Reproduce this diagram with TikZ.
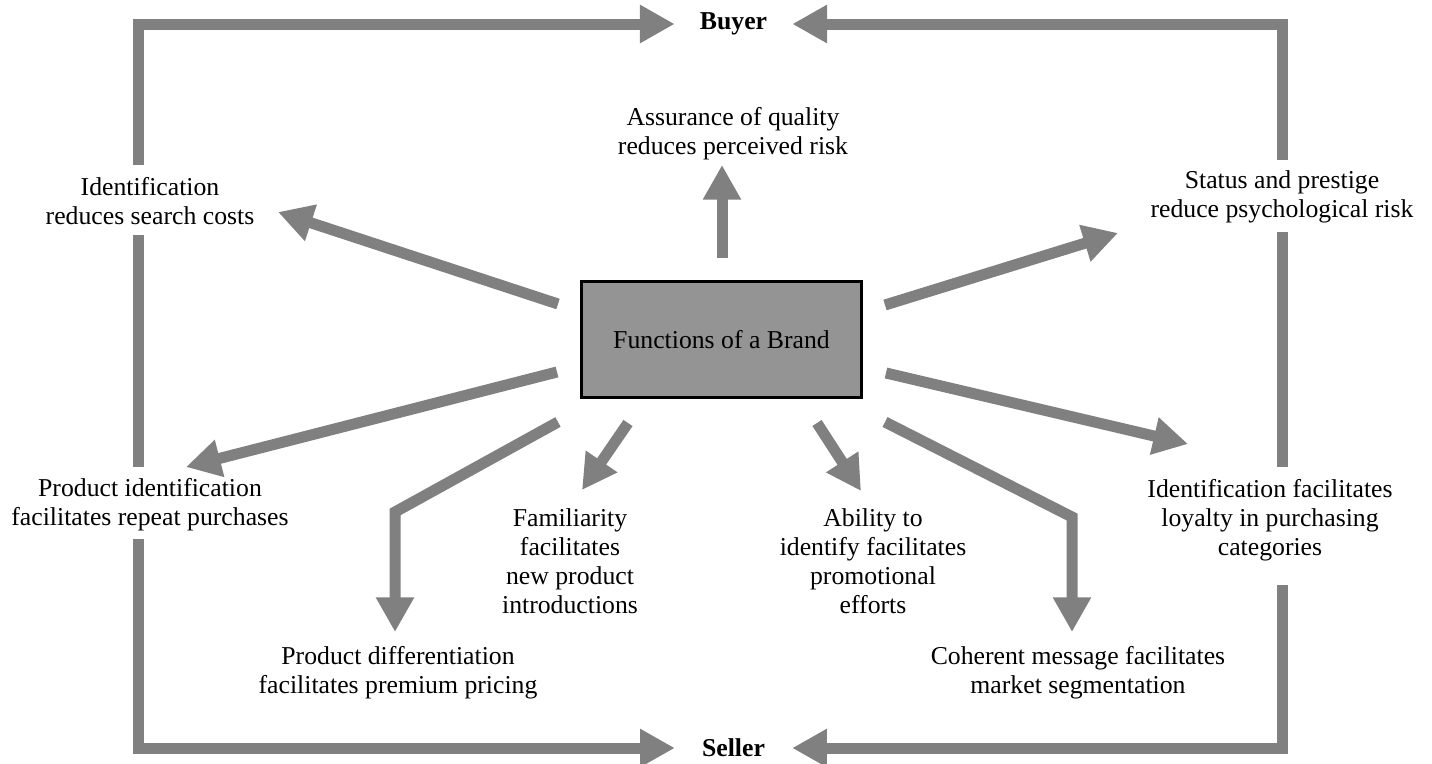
\documentclass[tikz,border=0pt]{standalone}
\usepackage{fontspec}
\setmainfont{Liberation Serif}
\usetikzlibrary{arrows.meta, positioning}
\definecolor{flowgray}{HTML}{808080}
\definecolor{boxgray}{HTML}{949494}

\tikzset{
  lbl/.style={align=center, inner sep=0pt, font=\fontsize{19.3pt}{21.75pt}\selectfont},
  hub/.style={lbl, draw=black, fill=boxgray, line width=2.25pt, minimum width=210pt, minimum height=87pt},
  rail/.style={draw=flowgray, line width=8.25pt, line join=miter},
  flow/.style={rail, -{Triangle[length=26pt, width=27pt]}}
}

\begin{document}
\begin{tikzpicture}[x=0.75pt, y=-0.75pt]
		\useasboundingbox (0,0) rectangle (1432,764);
		\draw (721.5,339.5) node[hub] (brand) {Functions of a Brand}
		(733.5,24) node[lbl, inner xsep=18.75pt] (buyer) {\bfseries Buyer}
		(733.5,748) node[lbl, inner xsep=20.25pt] (seller) {\bfseries Seller}
		(733,134) node[lbl] (quality) {Assurance of quality\\reduces perceived risk}
		(150,201) node[lbl] (search) {Identification\\reduces search costs}
		(1282,197) node[lbl] (status) {Status and prestige\\reduce psychological risk}
		(150,505) node[lbl] (repeat) {Product identification\\facilitates repeat purchases}
		(1270,520) node[lbl] (loyalty) {Identification facilitates\\loyalty in purchasing\\categories}
		(570,561) node[lbl] (newprod) {Familiarity\\facilitates\\new product\\introductions}
		(873,561) node[lbl] (promo) {Ability to\\identify facilitates\\promotional\\efforts}
		(398,673) node[lbl] (premium) {Product differentiation\\facilitates premium pricing}
		(1078,673) node[lbl] (segment) {Coherent message facilitates\\market segmentation};

		% frame round the picture
		\path (138,165) coordinate (l1) (138,235) coordinate (l2)
		(138,467) coordinate (l3) (138,539) coordinate (l4)
		(1282,160) coordinate (r1) (1282,232) coordinate (r2)
		(1282,467) coordinate (r3) (1282,585) coordinate (r4);
		\draw[flow] (l1) |- (buyer);
		\draw[rail] (l2) -- (l3);
		\draw[flow] (l4) |- (seller);
		\draw[flow] (r1) |- (buyer);
		\draw[rail] (r2) -- (r3);
		\draw[flow] (r4) |- (seller);

		% arrows out of the brand box
		\path (722,258) coordinate (q0) (722,165) coordinate (q1)
		(558,304) coordinate (s0) (278,212) coordinate (s1)
		(885,305) coordinate (p0) (1118,233) coordinate (p1)
		(557,372) coordinate (rp0) (186,467) coordinate (rp1)
		(886,373) coordinate (ly0) (1188,444) coordinate (ly1)
		(558,422) coordinate (pr0) (395,512) coordinate (prc) (395,632) coordinate (pr1)
		(628,423) coordinate (np0) (582,490) coordinate (np1)
		(817,423) coordinate (pm0) (861,491) coordinate (pm1)
		(885,422) coordinate (sg0) (1072,517) coordinate (sgc) (1072,632) coordinate (sg1);
		\draw[flow] (q0) -- (q1);
		\draw[flow] (s0) -- (s1);
		\draw[flow] (p0) -- (p1);
		\draw[flow] (rp0) -- (rp1);
		\draw[flow] (ly0) -- (ly1);
		\draw[flow] (pr0) -- (prc) -- (pr1);
		\draw[flow] (np0) -- (np1);
		\draw[flow] (pm0) -- (pm1);
		\draw[flow] (sg0) -- (sgc) -- (sg1);
	\end{tikzpicture}
\end{document}
